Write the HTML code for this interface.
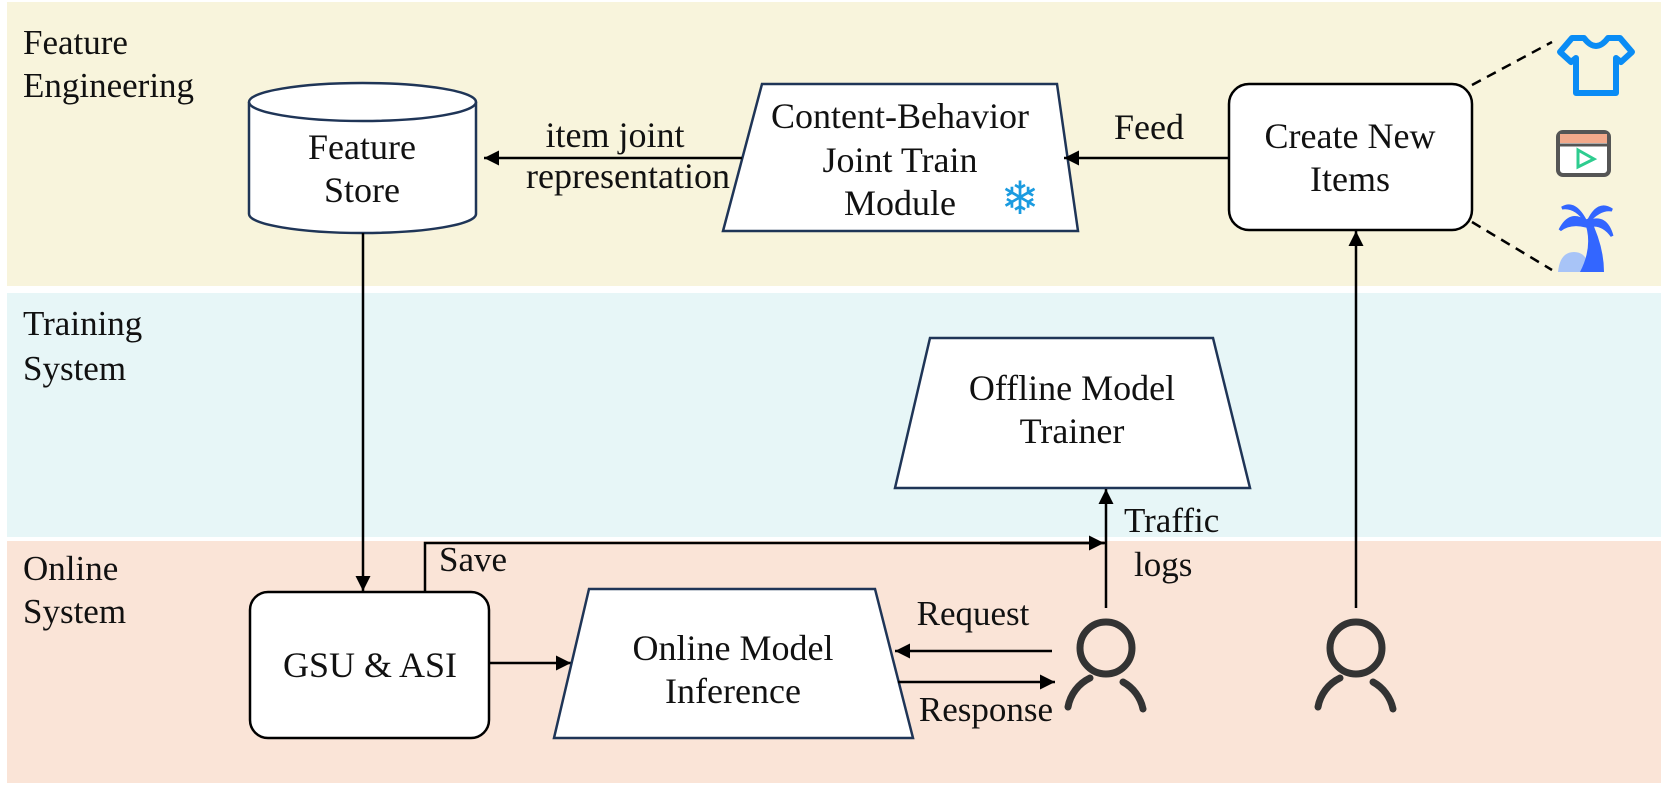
<!DOCTYPE html>
<html><head><meta charset="utf-8"><style>
html,body{margin:0;padding:0;background:#fff;}
svg{display:block;}
text{font-family:"Liberation Serif","Times New Roman",serif;fill:#111;}
</style></head><body>
<svg width="1661" height="785" viewBox="0 0 1661 785" xmlns="http://www.w3.org/2000/svg">
<defs>
<marker id="ah" viewBox="0 0 10 10" refX="10" refY="5" markerWidth="15" markerHeight="15" markerUnits="userSpaceOnUse" orient="auto">
<path d="M0,0 L10,5 L0,10 z" fill="#000"/>
</marker>
</defs>
<rect x="7" y="2" width="1654" height="284" fill="#f8f4dc"/>
<rect x="7" y="293" width="1654" height="244" fill="#e7f6f7"/>
<rect x="7" y="541" width="1654" height="242" fill="#fae4d7"/>

<g font-size="35">
<text x="23" y="54">Feature</text>
<text x="23" y="97">Engineering</text>
<text x="23" y="335">Training</text>
<text x="23" y="380">System</text>
<text x="23" y="580">Online</text>
<text x="23" y="623">System</text>
</g>

<!-- Feature store cylinder -->
<path d="M249,102 L249,214 A113.5,19 0 0 0 476,214 L476,102" fill="#fff" stroke="#1f3557" stroke-width="2.5"/>
<ellipse cx="362.5" cy="102" rx="113.5" ry="19" fill="#fff" stroke="#1f3557" stroke-width="2.5"/>
<g font-size="36" text-anchor="middle">
<text x="362" y="159">Feature</text>
<text x="362" y="202">Store</text>
</g>

<!-- CB trapezoid -->
<path d="M762,84 L1057,84 L1078,231 L723,231 Z" fill="#fff" stroke="#1f3557" stroke-width="2.5"/>
<g font-size="36" text-anchor="middle">
<text x="900" y="128">Content-Behavior</text>
<text x="900" y="172">Joint Train</text>
<text x="900" y="215">Module</text>
</g>
<text x="1020" y="214" font-size="46" text-anchor="middle" style="fill:#1a9be0">❄</text>

<line x1="742" y1="158" x2="484" y2="158" stroke="#000" stroke-width="2.5" marker-end="url(#ah)"/>
<text x="615" y="147" font-size="36" text-anchor="middle">item joint</text>
<text x="628" y="188" font-size="36" text-anchor="middle">representation</text>

<!-- Create new items -->
<rect x="1229" y="84" width="243" height="146" rx="20" fill="#fff" stroke="#000" stroke-width="2.5"/>
<g font-size="36" text-anchor="middle">
<text x="1350" y="148">Create New</text>
<text x="1350" y="191">Items</text>
</g>
<line x1="1229" y1="158" x2="1064" y2="158" stroke="#000" stroke-width="2.5" marker-end="url(#ah)"/>
<text x="1149" y="139" font-size="36" text-anchor="middle">Feed</text>
<line x1="1472" y1="85" x2="1552" y2="42" stroke="#000" stroke-width="2.5" stroke-dasharray="10,7"/>
<line x1="1472" y1="222" x2="1552" y2="270" stroke="#000" stroke-width="2.5" stroke-dasharray="10,7"/>

<!-- icons -->
<path d="M1572,38 L1584,38 Q1590,46 1596,46 Q1602,46 1608,38 L1620,38 L1632,52 L1621,62 L1616,58 L1616,93 L1576,93 L1576,58 L1571,62 L1560,52 Z" fill="none" stroke="#0a8cf5" stroke-width="6" stroke-linejoin="round"/>
<rect x="1558" y="132" width="51" height="43" rx="5" fill="#fff" stroke="#555" stroke-width="4"/>
<rect x="1560" y="134" width="47" height="9" fill="#f2a98b"/>
<line x1="1558" y1="145" x2="1609" y2="145" stroke="#555" stroke-width="3"/>
<path d="M1578,150 L1594,159 L1578,167 Z" fill="none" stroke="#2ecc8f" stroke-width="3"/>
<path d="M1558,272 Q1560,252 1574,252 Q1588,252 1590,272 Z" fill="#a8c4f7"/>
<path d="M1580,272 Q1594,245 1584,220 L1590,218 Q1604,246 1604,272 Z" fill="#3366ff"/>
<path d="M1586,222 Q1570,210 1560,230 Q1570,222 1586,226 Z M1586,222 Q1575,200 1562,208 Q1576,206 1586,222 Z M1588,222 Q1598,200 1612,210 Q1600,208 1588,222 Z M1588,222 Q1606,214 1612,236 Q1602,222 1588,226 Z" fill="#3366ff" stroke="#3366ff" stroke-width="3"/>

<!-- Offline trainer -->
<path d="M930,338 L1213,338 L1250,488 L895,488 Z" fill="#fff" stroke="#1f3557" stroke-width="2.5"/>
<g font-size="36" text-anchor="middle">
<text x="1072" y="400">Offline Model</text>
<text x="1072" y="443">Trainer</text>
</g>

<!-- feature store to GSU -->
<line x1="363" y1="233" x2="363" y2="591" stroke="#000" stroke-width="2.5" marker-end="url(#ah)"/>

<!-- GSU -->
<rect x="250" y="592" width="239" height="146" rx="18" fill="#fff" stroke="#000" stroke-width="2.5"/>
<text x="370" y="677" font-size="36" text-anchor="middle">GSU &amp; ASI</text>
<line x1="489" y1="663" x2="571" y2="663" stroke="#000" stroke-width="2.5" marker-end="url(#ah)"/>

<!-- Save -->
<polyline points="425,592 425,543 1105,543" fill="none" stroke="#000" stroke-width="2.5"/>
<line x1="1000" y1="543" x2="1104" y2="543" stroke="#000" stroke-width="2.5" marker-end="url(#ah)"/>
<text x="439" y="571" font-size="35">Save</text>

<!-- Online inference -->
<path d="M589,589 L875,589 L913,738 L554,738 Z" fill="#fff" stroke="#1f3557" stroke-width="2.5"/>
<g font-size="36" text-anchor="middle">
<text x="733" y="660">Online Model</text>
<text x="733" y="703">Inference</text>
</g>

<line x1="1052" y1="651" x2="895" y2="651" stroke="#000" stroke-width="2.5" marker-end="url(#ah)"/>
<line x1="898" y1="682" x2="1055" y2="682" stroke="#000" stroke-width="2.5" marker-end="url(#ah)"/>
<text x="973" y="625" font-size="35" text-anchor="middle">Request</text>
<text x="986" y="721" font-size="35" text-anchor="middle">Response</text>

<!-- traffic logs -->
<line x1="1106" y1="608" x2="1106" y2="489" stroke="#000" stroke-width="2.5" marker-end="url(#ah)"/>
<text x="1124" y="532" font-size="35">Traffic</text>
<text x="1134" y="576" font-size="35">logs</text>

<!-- users -->
<g fill="none" stroke="#333" stroke-width="7" stroke-linecap="round">
<circle cx="1106" cy="648" r="26"/>
<path d="M1068,707 A40,40 0 0 1 1090,678"/>
<path d="M1123,682 A40,40 0 0 1 1143,709"/>
<circle cx="1356" cy="648" r="26"/>
<path d="M1318,707 A40,40 0 0 1 1340,678"/>
<path d="M1373,682 A40,40 0 0 1 1393,709"/>
</g>
<line x1="1356" y1="608" x2="1356" y2="231" stroke="#000" stroke-width="2.5" marker-end="url(#ah)"/>
</svg>
</body></html>
